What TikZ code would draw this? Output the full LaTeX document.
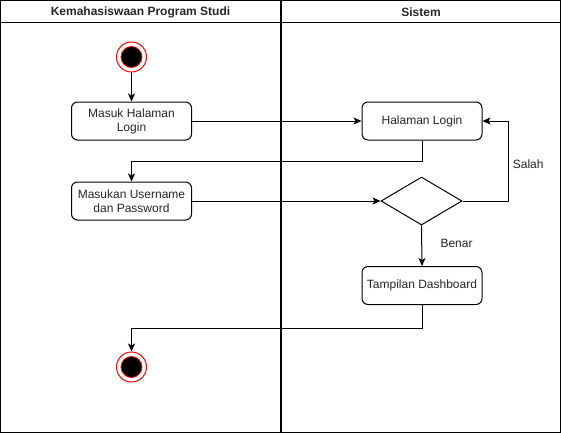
\documentclass[tikz,border=0pt]{standalone}
\usepackage{fontspec}
\setmainfont{Liberation Sans}
\usetikzlibrary{shapes.geometric, arrows.meta}

\begin{document}
\begin{tikzpicture}[x=1pt, y=-1pt, line width=1pt,
  aktivitas/.style={draw, rounded corners=6pt, minimum width=120pt, minimum height=38pt,
    inner sep=0pt, align=center, text=black!85, font=\fontsize{12}{14}\selectfont},
  keputusan/.style={draw, diamond, minimum width=81pt, minimum height=48pt, inner sep=0pt},
  status/.style={circle, draw=red, minimum size=30pt, inner sep=0pt},
  teks/.style={text=black!85, font=\fontsize{12}{14}\selectfont},
  panah/.style={-{Stealth[length=8pt, width=7pt, inset=2pt]}}]
\useasboundingbox (0,0) rectangle (561,433);

% lajur
\draw (0.5,0.5) rectangle (281,432.5);
\draw (281,0.5) rectangle (560.5,432.5);
\draw (0.5,23) -- (560.5,23);
\draw[line width=1.6pt] (281,0.5) -- (281,432.5);
\node[teks, font=\fontsize{12}{14}\selectfont\bfseries] (lajur1) at (140.5,12) {Kemahasiswaan Program Studi};
\node[teks, font=\fontsize{12}{14}\selectfont\bfseries] (lajur2) at (421,12) {Sistem};

% simpul
\node[status] (mulai) at (131.5,57) {};
\fill[draw=red, line width=0.8pt] (mulai.center) circle (10.5pt);
\node[aktivitas] (masuk) at (131.5,121) {Masuk Halaman\\Login};
\node[aktivitas] (input) at (131.5,201) {Masukan Username\\dan Password};
\node[aktivitas] (login) at (422,121) {Halaman Login};
\node[keputusan] (cek) at (421.5,201) {};
\node[aktivitas] (dash) at (422,285.5) {Tampilan Dashboard};
\node[status] (selesai) at (131.5,367) {};
\fill[draw=red, line width=0.8pt] (selesai.center) circle (10.5pt);

% alur
\draw[panah] (mulai) -- (masuk);
\draw[panah] (masuk) -- (login);
\draw[panah] (login.south) -- ++(0,20.5) -| (input.north);
\draw[panah] (input) -- (cek);
\draw[panah] (cek.east) -- ++(45.5,0) |- node[teks, pos=0.23, anchor=west, xshift=1pt] {Salah} (login.east);
\draw[panah] (cek.south) -- node[teks, pos=0.45, anchor=west, xshift=15pt] {Benar} (dash.north);
\draw[panah] (dash.south) -- ++(0,23.5) -| (selesai.north);
\end{tikzpicture}
\end{document}
